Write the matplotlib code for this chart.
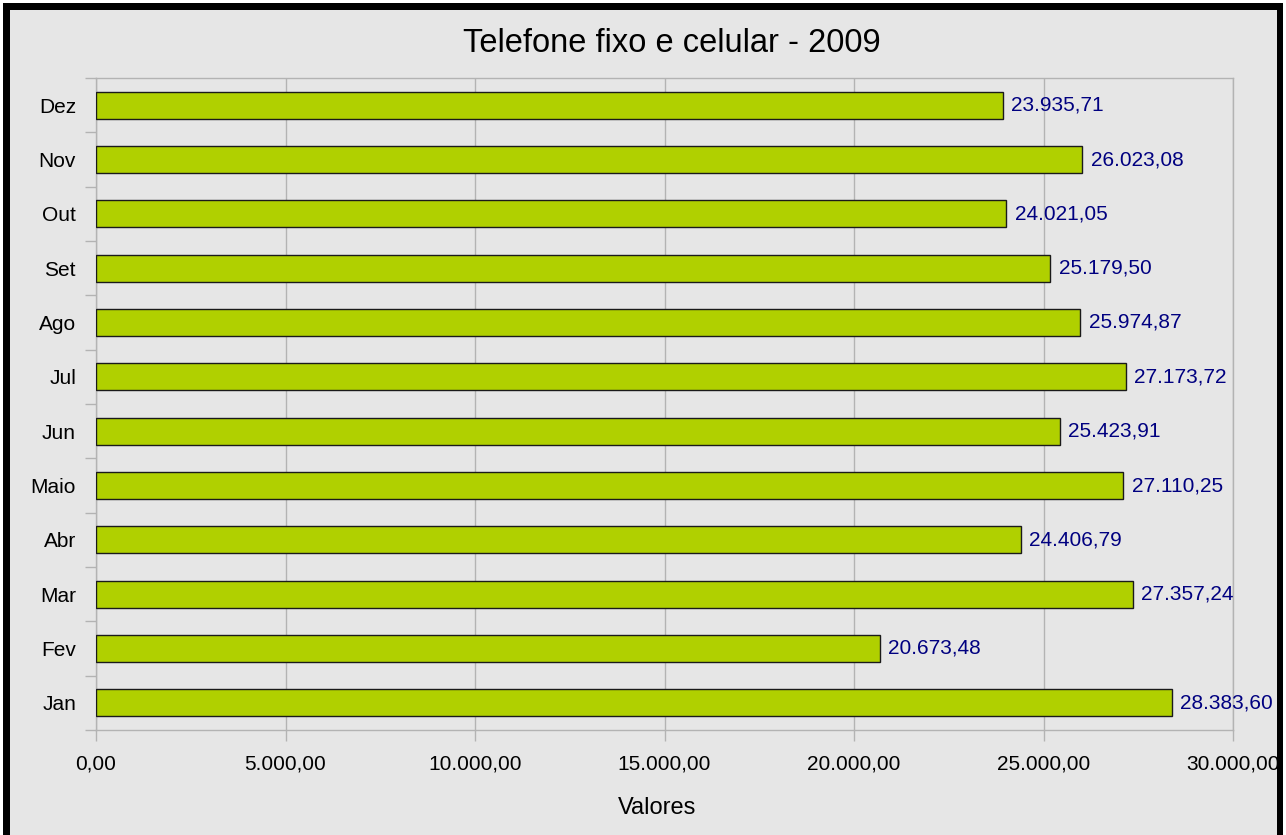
import matplotlib
matplotlib.use("Agg")
import matplotlib.pyplot as plt
from matplotlib.patches import Rectangle

months = ["Jan", "Fev", "Mar", "Abr", "Maio", "Jun", "Jul", "Ago", "Set", "Out", "Nov", "Dez"]
values = [28383.60, 20673.48, 27357.24, 24406.79, 27110.25, 25423.91,
          27173.72, 25974.87, 25179.50, 24021.05, 26023.08, 23935.71]
xticks = [0, 5000, 10000, 15000, 20000, 25000, 30000]
title = "Telefone fixo e celular - 2009"
xlabel = "Valores"


def br(v):
    s = f"{v:,.2f}"
    return s.replace(",", "X").replace(".", ",").replace("X", ".")


plt.rcParams['font.family'] = ['Liberation Sans', 'DejaVu Sans']

W, H = 1286, 835
fig = plt.figure(figsize=(W / 100, H / 100), dpi=100, facecolor="white")


def px_rect(x0, y0, x1, y1, color, z):
    r = Rectangle((x0 / W, 1 - y1 / H), (x1 - x0) / W, (y1 - y0) / H,
                  transform=fig.transFigure, facecolor=color, edgecolor="none", zorder=z)
    fig.add_artist(r)


# background panel
px_rect(10, 10, 1277, 840, "#e6e6e6", -10)

L, R, T, B = 96, 1233, 78, 730
ax = fig.add_axes([L / W, 1 - B / H, (R - L) / W, (B - T) / H])
ax.set_facecolor("#e6e6e6")

ypos = list(range(len(months)))
ax.barh(ypos, values, height=0.5, color="#b0d000", edgecolor="#1a1a1a",
        linewidth=1.0, zorder=3)
for y, v in zip(ypos, values):
    ax.annotate(br(v), (v, y), xytext=(6, 0), textcoords="offset points",
                va="center", ha="left", fontsize=15, color="#000080", zorder=5,
                annotation_clip=False)

ax.set_xlim(0, 30000)
ax.set_ylim(-0.5, len(months) - 0.5)
ax.set_xticks(xticks)
ax.set_xticklabels([br(x) for x in xticks], fontsize=15)
ax.set_yticks(ypos)
ax.set_yticklabels(months, fontsize=15)
ax.set_yticks([i - 0.5 for i in range(len(months) + 1)], minor=True)
ax.tick_params(axis="y", which="major", length=0, pad=14.4)
ax.tick_params(axis="y", which="minor", length=8, color="#b3b3b3", width=1.0)
ax.tick_params(axis="x", which="major", length=8, color="#b3b3b3", width=1.0, pad=10)
ax.grid(axis="x", color="#b3b3b3", linewidth=1.0, zorder=0)
ax.set_axisbelow(True)
for s in ax.spines.values():
    s.set_color("#b3b3b3")
    s.set_linewidth(1.0)

fig.text(657 / W, 1 - 808 / H, xlabel, fontsize=17, ha="center", va="center")
fig.text(672 / W, 1 - 43 / H, title, fontsize=23.5, ha="center", va="center")

# black frame
px_rect(3, 3, 1283, 10, "black", 100)
px_rect(3, 3, 10, 840, "black", 100)
px_rect(1277, 3, 1283, 840, "black", 100)

fig.savefig("out.png", dpi=100, facecolor="white")
